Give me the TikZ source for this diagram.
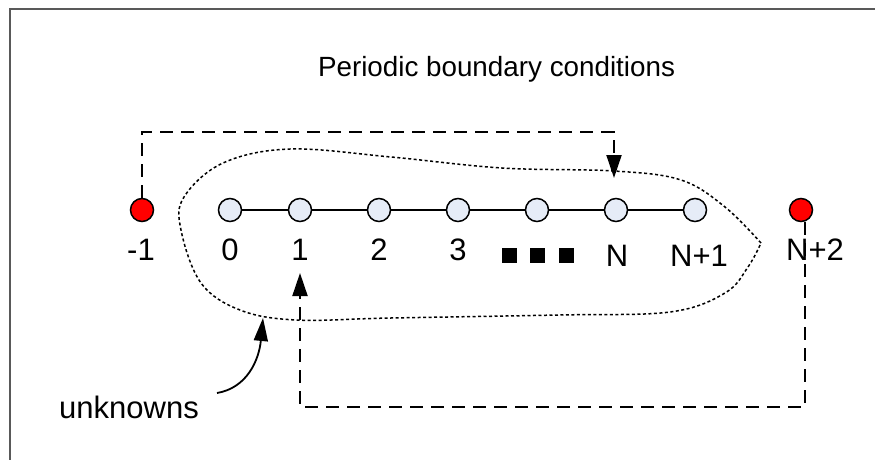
\documentclass[tikz,border=0pt]{standalone}
\usepackage{fontspec}
\setmainfont{Liberation Sans}
\usetikzlibrary{arrows.meta}
\definecolor{siteblue}{RGB}{230,236,247}

\begin{document}
\begin{tikzpicture}[x=1pt, y=-1pt,
  site/.style={circle, draw=black, line width=1.5pt, minimum size=23pt, inner sep=0pt, fill=siteblue},
  ghost/.style={site, fill=red},
  lbl/.style={anchor=base, inner sep=0pt, font=\fontsize{31}{34}\selectfont},
  blk/.style={fill=black, minimum size=15pt, inner sep=0pt},
  jump/.style={line width=2pt, dash pattern=on 13pt off 8pt, -{Triangle[length=23pt,width=15pt]}}]
\useasboundingbox (0,0) rectangle (875,460);
\draw[color=black!65, line width=1.5pt] (10,460) -- (10,9) -- (875,9);

\node[anchor=base, inner sep=0pt, font=\fontsize{27.8}{30}\selectfont] (title) at (496.5,76) {Periodic boundary conditions};

\node[ghost] (gm1) at (142,210) {};
\node[site] (s0) at (230,210) {};
\node[site] (s1) at (300,210) {};
\node[site] (s2) at (379,210) {};
\node[site] (s3) at (458,210) {};
\node[site] (s4) at (537,210) {};
\node[site] (sN) at (616,210) {};
\node[site] (sN1) at (695,210) {};
\node[ghost] (gN2) at (801,210) {};
\draw[line width=1.5pt] (s0) -- (s1) -- (s2) -- (s3) -- (s4) -- (sN) -- (sN1);

\node[lbl] (lm1) at (141,260) {-1};
\node[lbl] (l0) at (230,260) {0};
\node[lbl] (l1) at (300,260) {1};
\node[lbl] (l2) at (379,260) {2};
\node[lbl] (l3) at (458,260) {3};
\node[lbl] (lN) at (617,266) {N};
\node[lbl] (lN1) at (699,266) {N+1};
\node[lbl] (lN2) at (815,260) {N+2};

\node[blk] (d1) at (509.5,255.5) {};
\node[blk] (d2) at (537,255.5) {};
\node[blk] (d3) at (566,255.5) {};

\draw[line width=1.5pt, dash pattern=on 3pt off 2.5pt] plot[smooth, tension=0.6] coordinates {
  (761,243) (725,207) (681,180) (614,171) (502,168) (391,157) (290,149) (223,163)
  (184,197) (181,230) (201,283) (240,310) (296,320) (391,318) (558,315) (670,312)
  (725,293) (748,267) (761,243)};

\coordinate (upL) at (142,132);
\coordinate (inN) at (614,178);
\draw[jump] (gm1) -- (upL) -| (inN);

\coordinate (lowR) at (805,407);
\coordinate (in1) at (300,273);
\draw[jump] ([xshift=4pt]gN2.south) -- (lowR) -| (in1);

\node[lbl] (unk) at (129,418) {unknowns};
\coordinate (tail) at (217,393);
\coordinate (blob) at (263,318);
\draw[line width=1.8pt, -{Triangle[length=23pt,width=14pt]}] (tail) .. controls (247,388) and (259,360) .. (blob);
\end{tikzpicture}
\end{document}
